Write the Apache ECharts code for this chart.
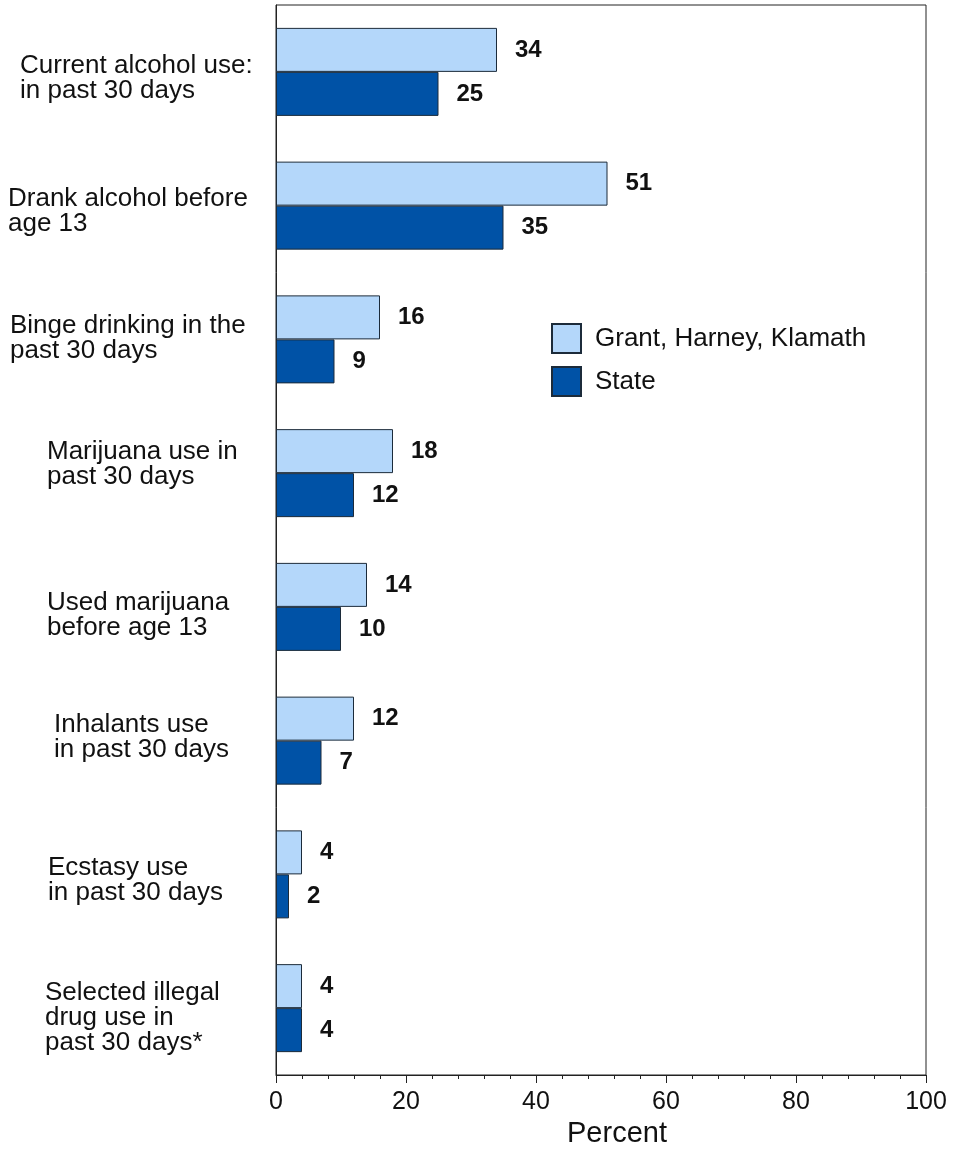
<!DOCTYPE html>
<html>
<head>
<meta charset="utf-8">
<script src="https://cdn.jsdelivr.net/npm/echarts@6/dist/echarts.min.js"></script>
<style>
html,body{margin:0;padding:0;background:#fff;}
#chart{width:956px;height:1150px;}
</style>
</head>
<body>
<div id="chart"></div>
<script>
const categories = [
  "Current alcohol use:\nin past 30 days",
  "Drank alcohol before\nage 13",
  "Binge drinking in the\npast 30 days",
  "Marijuana use in\npast 30 days",
  "Used marijuana\nbefore age 13",
  "Inhalants use\nin past 30 days",
  "Ecstasy use\nin past 30 days",
  "Selected illegal\ndrug use in\npast 30 days*"
];
const seriesNames = ["Grant, Harney, Klamath", "State"];
const localValues = [34, 51, 16, 18, 14, 12, 4, 4];
const stateValues = [25, 35, 9, 12, 10, 7, 2, 4];
const xTicks = [0, 20, 40, 60, 80, 100];

// layout only: left indent and vertical shift of each category label (px)
const labelIndent = [14, 2, 4, 41, 41, 48, 42, 39];
const labelShift = [6, 6, -1, -9, 8, -3, 6, 10];

const FONT = "'Liberation Sans', Arial, sans-serif";
const chart = echarts.init(document.getElementById('chart'), null, {renderer: 'canvas'});

const rich = {t: {fontSize: 26, lineHeight: 25, fontFamily: FONT, color: '#111'}};
labelShift.forEach((s, i) => {
  rich['sp' + i] = {fontSize: 1, lineHeight: Math.max(1, Math.abs(s) * 2), color: 'rgba(0,0,0,0)'};
});

const valueLabel = {
  show: true,
  position: 'right',
  distance: 18,
  fontSize: 24,
  fontWeight: 'bold',
  fontFamily: FONT,
  color: '#111'
};

chart.setOption({
  animation: false,
  backgroundColor: '#fff',
  grid: {
    left: 276, right: 30, top: 5, bottom: 75,
    containLabel: false,
    outerBoundsMode: 'none',
    show: true, borderColor: '#222', borderWidth: 1, backgroundColor: 'transparent'
  },
  legend: {
    orient: 'vertical',
    left: 546, top: 318,
    itemWidth: 29, itemHeight: 29, itemGap: 12,
    icon: 'rect',
    data: seriesNames,
    textStyle: {fontSize: 26, fontFamily: FONT, color: '#111', padding: [0, 0, 0, 9]}
  },
  xAxis: {
    type: 'value',
    min: xTicks[0], max: xTicks[xTicks.length - 1], interval: 20,
    name: 'Percent',
    nameLocation: 'middle',
    nameGap: 43,
    nameTextStyle: {fontSize: 29, fontFamily: FONT, color: '#111', padding: [0, 0, 0, 32]},
    axisLine: {show: true, lineStyle: {color: '#222', width: 1}},
    axisTick: {show: true, length: 8, lineStyle: {color: '#222'}},
    minorTick: {show: true, splitNumber: 5, length: 4, lineStyle: {color: '#222'}},
    splitLine: {show: false},
    axisLabel: {fontSize: 25, fontFamily: FONT, color: '#111', margin: 15}
  },
  yAxis: {
    type: 'category',
    inverse: true,
    data: categories.map((c, i) => ({
      value: c,
      textStyle: {padding: [0, 0, 0, labelIndent[i]], align: 'left'}
    })),
    axisLine: {show: true, lineStyle: {color: '#222', width: 1}},
    axisTick: {show: false},
    splitLine: {show: false},
    axisLabel: {
      align: 'left',
      margin: 270,
      fontSize: 26,
      lineHeight: 25,
      fontFamily: FONT,
      color: '#111',
      rich: rich,
      formatter: function (value, index) {
        const lines = String(value).split('\n').map(l => '{t|' + l + '}');
        const s = labelShift[index] || 0;
        if (s > 0) lines.unshift('{sp' + index + '| }');
        else if (s < 0) lines.push('{sp' + index + '| }');
        return lines.join('\n');
      }
    }
  },
  series: [
    {
      name: seriesNames[0],
      type: 'bar',
      data: localValues,
      barWidth: 44,
      barGap: '0%',
      itemStyle: {color: '#B4D7FA', borderColor: '#1C2B3A', borderWidth: 1},
      label: valueLabel
    },
    {
      name: seriesNames[1],
      type: 'bar',
      data: stateValues,
      barWidth: 44,
      barGap: '0%',
      itemStyle: {color: '#0052A6', borderColor: '#1C2B3A', borderWidth: 1},
      label: valueLabel
    }
  ]
});
</script>
</body>
</html>
